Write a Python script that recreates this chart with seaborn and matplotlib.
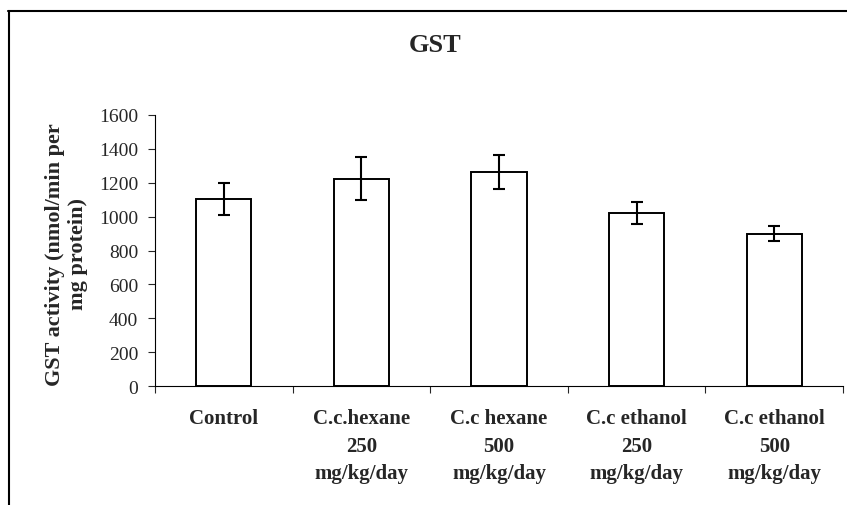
import pandas as pd
import matplotlib.pyplot as plt
import seaborn as sns
from matplotlib.lines import Line2D

# values
groups = ["Control",
          "C.c.hexane\n250\nmg/kg/day",
          "C.c hexane\n500\nmg/kg/day",
          "C.c ethanol\n250\nmg/kg/day",
          "C.c ethanol\n500\nmg/kg/day"]
gst_mean = [1105, 1225, 1265, 1023, 900]
gst_err = [95, 128, 100, 66, 45]
y_ticks = [0, 200, 400, 600, 800, 1000, 1200, 1400, 1600]

df = pd.DataFrame({"group": groups, "gst": gst_mean, "err": gst_err})

sns.set_style("white")
plt.rcParams["font.family"] = ["Liberation Serif", "DejaVu Serif"]

fig = plt.figure(figsize=(8.47, 5.06), dpi=100)
ax = fig.add_axes([155 / 847, 1 - 387 / 506, 688 / 847, 271 / 506])

sns.barplot(data=df, x="group", y="gst", color="white", edgecolor="black",
            linewidth=1.4, width=0.4, errorbar=None, ax=ax)
ax.errorbar(range(len(df)), df["gst"], yerr=df["err"], fmt="none",
            ecolor="black", elinewidth=1.5, capsize=4.5, capthick=1.5)

ax.set_xlim(-0.5, len(df) - 0.5)
ax.set_ylim(0, 1600)
ax.set_yticks(y_ticks)
ax.set_yticklabels([str(v) for v in y_ticks], fontsize=14)
ax.tick_params(axis="y", direction="out", length=5, width=0.8, pad=7, left=True)

# category labels centred, tick marks at the boundaries
ax.set_xticks(range(len(df)))
ax.set_xticklabels(groups, fontsize=15, fontweight="bold")
ax.tick_params(axis="x", which="major", length=0, pad=16)
ax.set_xticks([i - 0.5 for i in range(len(df) + 1)], minor=True)
ax.tick_params(axis="x", which="minor", direction="out", length=5, width=0.8, bottom=True)
for lbl in ax.get_xticklabels():
    lbl.set_linespacing(1.5)

ax.set_xlabel("")
ax.set_ylabel("GST activity (nmol/min per\nmg protein)", fontsize=16, fontweight="bold")
ax.yaxis.set_label_coords(-0.097, 0.49)

sns.despine(ax=ax)
for side in ["left", "bottom"]:
    ax.spines[side].set_color("black")
    ax.spines[side].set_linewidth(0.8)

fig.text(435 / 847, 1 - 46 / 506, "GST", fontsize=19, fontweight="bold",
         ha="center", va="center")

# outer frame (top and left only visible)
fig.add_artist(Line2D([8 / 847, 1], [1 - 12 / 506, 1 - 12 / 506], color="black", lw=1.5))
fig.add_artist(Line2D([9 / 847, 9 / 847], [0, 1 - 12 / 506], color="black", lw=1.5))

fig.savefig("out.png", dpi=100)
